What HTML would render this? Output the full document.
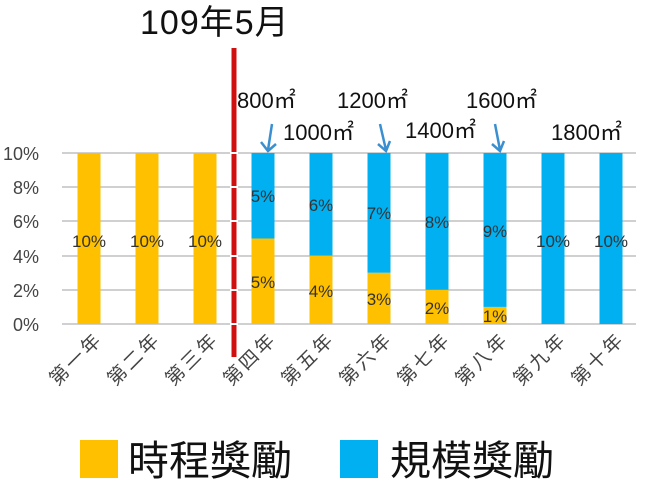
<!DOCTYPE html>
<html><head><meta charset="utf-8"><style>
body{margin:0;background:#fff;width:650px;height:489px;overflow:hidden}
svg text{font-family:"Liberation Sans","Noto Sans CJK TC",sans-serif}
</style></head><body>
<svg width="650" height="489" viewBox="0 0 650 489">
<g stroke="#d0d0d0" stroke-width="2">
<line x1="62" x2="636" y1="153" y2="153"/><line x1="62" x2="636" y1="187" y2="187"/>
<line x1="62" x2="636" y1="221" y2="221"/><line x1="62" x2="636" y1="256" y2="256"/>
<line x1="62" x2="636" y1="290" y2="290"/><line x1="62" x2="636" y1="324" y2="324"/>
</g>
<g font-size="18" fill="#444" text-anchor="end">
<text x="39" y="160">10%</text><text x="39" y="194">8%</text><text x="39" y="228">6%</text>
<text x="39" y="263">4%</text><text x="39" y="297">2%</text><text x="39" y="331">0%</text>
</g>
<g fill="#FFC000">
<rect x="77.5" y="153" width="23" height="171"/>
<rect x="135.5" y="153" width="23" height="171"/>
<rect x="193.5" y="153" width="23" height="171"/>
<rect x="251.5" y="238.5" width="23" height="85.5"/>
<rect x="309.5" y="255.6" width="23" height="68.4"/>
<rect x="367.5" y="272.7" width="23" height="51.3"/>
<rect x="425.5" y="289.8" width="23" height="34.2"/>
<rect x="483.5" y="306.9" width="23" height="17.1"/>
</g>
<g fill="#00B0F0">
<rect x="251.5" y="153" width="23" height="85.5"/>
<rect x="309.5" y="153" width="23" height="102.6"/>
<rect x="367.5" y="153" width="23" height="119.7"/>
<rect x="425.5" y="153" width="23" height="136.8"/>
<rect x="483.5" y="153" width="23" height="153.9"/>
<rect x="541.5" y="153" width="23" height="171"/>
<rect x="599.5" y="153" width="23" height="171"/>
</g>
<g font-size="17" fill="#333" text-anchor="middle">
<text x="89" y="247">10%</text><text x="147" y="247">10%</text><text x="205" y="247">10%</text>
<text x="553" y="247">10%</text><text x="611" y="247">10%</text>
<text x="263" y="288">5%</text><text x="321" y="297">4%</text><text x="379" y="305">3%</text><text x="437" y="314">2%</text><text x="495" y="322">1%</text>
<text x="263" y="202">5%</text><text x="321" y="211">6%</text><text x="379" y="219">7%</text><text x="437" y="228">8%</text><text x="495" y="237">9%</text>
</g>
<g font-size="19" fill="#444" text-anchor="end" letter-spacing="3">
<text transform="translate(104,340) rotate(-45)">第一年</text>
<text transform="translate(162,340) rotate(-45)">第二年</text>
<text transform="translate(220,340) rotate(-45)">第三年</text>
<text transform="translate(278,340) rotate(-45)">第四年</text>
<text transform="translate(336,340) rotate(-45)">第五年</text>
<text transform="translate(394,340) rotate(-45)">第六年</text>
<text transform="translate(452,340) rotate(-45)">第七年</text>
<text transform="translate(510,340) rotate(-45)">第八年</text>
<text transform="translate(568,340) rotate(-45)">第九年</text>
<text transform="translate(626,340) rotate(-45)">第十年</text>
</g>
<line x1="234" y1="48" x2="234" y2="357" stroke="#d01010" stroke-width="5"/>
<g stroke="#fff" stroke-width="2"><line x1="230" x2="238" y1="153" y2="153"/><line x1="230" x2="238" y1="187" y2="187"/><line x1="230" x2="238" y1="221" y2="221"/><line x1="230" x2="238" y1="256" y2="256"/><line x1="230" x2="238" y1="290" y2="290"/><line x1="230" x2="238" y1="324" y2="324"/></g>
<text x="140" y="34" font-size="34" fill="#111" letter-spacing="1">109年5月</text>
<g font-size="22" fill="#111">
<text x="237" y="108">800㎡</text><text x="337" y="108">1200㎡</text><text x="466" y="108">1600㎡</text>
<text x="283" y="140">1000㎡</text><text x="405" y="138">1400㎡</text><text x="551" y="140">1800㎡</text>
</g>
<g stroke="#3a8fd0" stroke-width="2.5" fill="none">
<path d="M272,124 L268,150 M261,142 L268,151 L276,144"/>
<path d="M380,124 L386,150 M378,144 L386,151 L390,141"/>
<path d="M495,124 L500,150 M492,144 L500,151 L504,141"/>
</g>
<rect x="80" y="440" width="38" height="38" fill="#FFC000"/>
<text x="128" y="475" font-size="41" fill="#111">時程獎勵</text>
<rect x="340" y="440" width="38" height="38" fill="#00B0F0"/>
<text x="390" y="475" font-size="41" fill="#111">規模獎勵</text>
</svg>
</body></html>
